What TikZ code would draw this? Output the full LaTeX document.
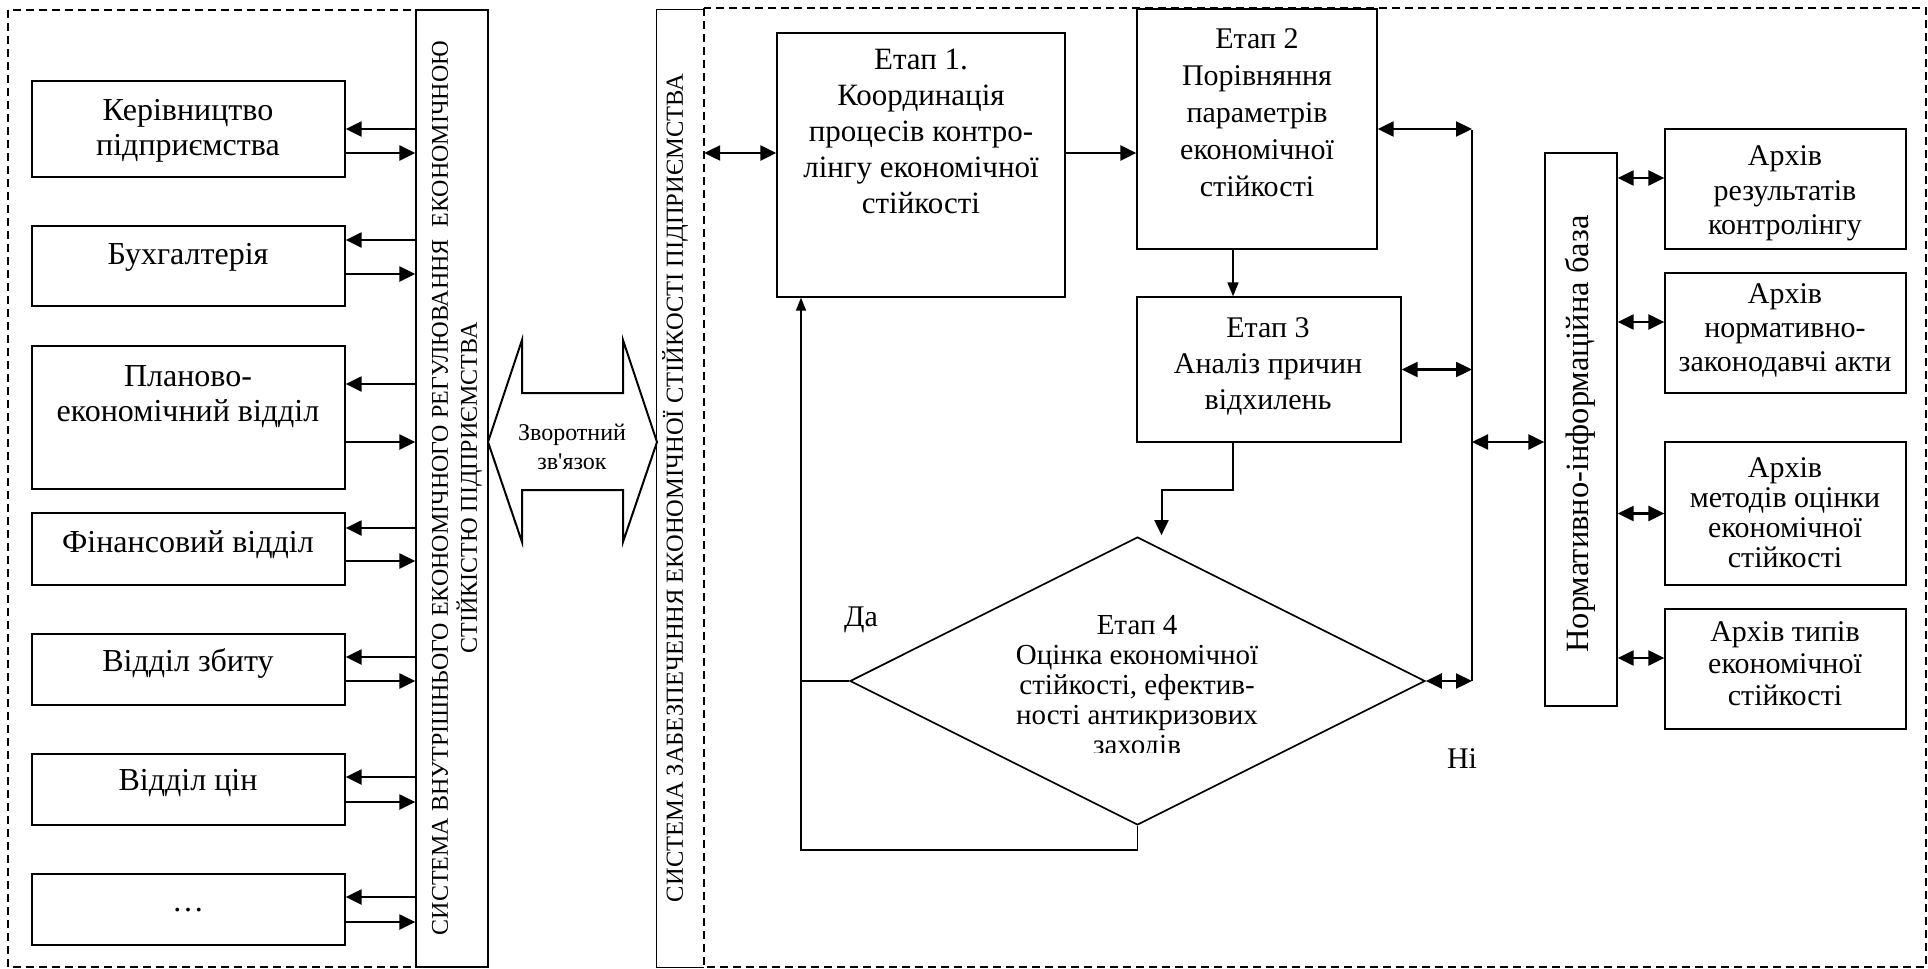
\documentclass[tikz,border=0pt]{standalone}
\usepackage{fontspec}
\setmainfont{Liberation Serif}
\newfontfamily\plainserif{Liberation Serif}
\usetikzlibrary{arrows.meta,shapes.geometric,calc}

\tikzset{
  frame/.style={draw, line width=1.3pt, inner sep=0pt},
  dashframe/.style={draw, line width=1.2pt, dash pattern=on 8pt off 5pt},
  lbl/.style={align=center, inner sep=0pt},
  big/.style={font=\fontsize{30}{35}\selectfont},
  dept/.style={font=\fontsize{32}{35}\selectfont},
  arr/.style={line width=2.3pt, -{Triangle[length=16pt,width=15pt]}},
  darr/.style={line width=2.3pt, {Triangle[length=16pt,width=15pt]}-{Triangle[length=16pt,width=15pt]}},
  thinarr/.style={line width=1.6pt, -{Triangle[length=14pt,width=11pt]}},
  wire/.style={line width=1.6pt},
  deptbox/.style={frame, minimum width=313pt},
  archbox/.style={frame, minimum width=241pt},
}

\begin{document}
\begin{tikzpicture}[x=1pt,y=-1pt]
\useasboundingbox (0,0) rectangle (1928,969);

% dashed outer frames
\draw[dashframe] (8,10) rectangle (416,967);
\draw[dashframe] (704,8) rectangle (1926,967);

% ---------- left part: departments and regulation system ----------
\node[frame, minimum width=72pt, minimum height=957pt, fill=white] (bar1) at (452,488.5) {};
\node[lbl, rotate=90, font=\fontsize{24}{29}\selectfont] (bar1-t) at (457,488)
  {СИСТЕМА ВНУТРІШНЬОГО ЕКОНОМІЧНОГО РЕГУЛЮВАННЯ\ \ ЕКОНОМІЧНОЮ\\СТІЙКІСТЮ ПІДПРИЄМСТВА};

\node[deptbox, minimum height=96pt]  (kerivn) at (188.5,129) {};
\node[deptbox, minimum height=80pt]  (buh)    at (188.5,266) {};
\node[deptbox, minimum height=143pt] (plan)   at (188.5,417.5) {};
\node[deptbox, minimum height=72pt]  (fin)    at (188.5,549) {};
\node[deptbox, minimum height=71pt]  (zbut)   at (188.5,669.5) {};
\node[deptbox, minimum height=71pt]  (cin)    at (188.5,789.5) {};
\node[deptbox, minimum height=71pt]  (more)   at (188.5,909.5) {};

\node[lbl, dept] (kerivn-t) at (188,131) {Керівництво\\підприємства};
\node[lbl, dept] (buh-t)    at (188,257) {Бухгалтерія};
\node[lbl, dept] (plan-t)   at (188,397) {Планово-\\економічний відділ};
\node[lbl, dept] (fin-t)    at (188,545) {Фінансовий відділ};
\node[lbl, dept] (zbut-t)   at (188,663) {Відділ збиту};
\node[lbl, dept] (cin-t)    at (188,783) {Відділ цін};
\node[lbl, dept] (more-t)   at (188,910) {…};

% each department: a line in from the system bar and a line out to it
\foreach \n/\a/\b in {kerivn/0/24, buh/-26/8, plan/-33.5/24.5, fin/-21/12,
                      zbut/-12.5/11.5, cin/-12.5/12.5, more/-12.5/12.5} {
  \coordinate (\n-in)  at ($(\n.east)+(0,\a)$);
  \coordinate (\n-out) at ($(\n.east)+(0,\b)$);
  \draw[arr] (bar1.west |- \n-in) -- (\n-in);
  \draw[arr] (\n-out) -- (bar1.west |- \n-out);
}

% feedback double arrow between the two systems
\draw[line width=2pt, fill=white] (488,442) -- (522,340) -- (522,393) -- (623,393)
  -- (623,340) -- (657,442) -- (623,542) -- (623,490) -- (522,490) -- (522,542) -- cycle;
\node[lbl, font=\plainserif\fontsize{24}{29}\selectfont] (fb) at (572,447) {Зворотний\\зв'язок};

% ---------- right part: stability assurance system ----------
\node[inner sep=0pt, minimum width=47pt, minimum height=957pt] (bar2) at (680.5,488.5) {};
\draw[line width=1.3pt] (bar2.north east) -- (bar2.north west) -- (bar2.south west) -- (bar2.south east);
\node[lbl, rotate=90, font=\fontsize{24.5}{29}\selectfont] (bar2-t) at (675,488)
  {СИСТЕМА ЗАБЕЗПЕЧЕННЯ ЕКОНОМІЧНОЇ СТІЙКОСТІ ПІДПРИЄМСТВА};

% stages
\node[frame, minimum width=288pt, minimum height=264pt] (e1) at (921,165) {};
\node[lbl, font=\fontsize{31}{36}\selectfont] (e1-t) at (921,131)
  {Етап 1.\\Координація\\процесів контро-\\лінгу економічної\\стійкості};

\node[frame, minimum width=240pt, minimum height=240pt] (e2) at (1257,129) {};
\node[lbl, font=\fontsize{30}{37}\selectfont] (e2-t) at (1257,113)
  {Етап 2\\Порівняння\\параметрів\\економічної\\стійкості};

\node[frame, minimum width=264pt, minimum height=145pt] (e3) at (1269,369.5) {};
\node[lbl, font=\fontsize{30}{36}\selectfont] (e3-t) at (1268,366)
  {Етап 3\\Аналіз причин\\відхилень};

\node[diamond, draw, line width=1.7pt, inner sep=0pt,
      minimum width=575pt, minimum height=288pt] (e4) at (1137.5,681) {};
\begin{scope}
  \clip (990,600) rectangle (1290,752);
  \node[lbl, font=\fontsize{29}{30}\selectfont] (e4-t) at (1137,688)
    {Етап 4\\Оцінка економічної\\стійкості, ефектив-\\ності антикризових\\заходів};
\end{scope}

\node[lbl, big] (yes) at (861,620) {Да};
\node[lbl, big] (no)  at (1462,759) {Ні};

% links between the system bar and the stages
\coordinate (e1-in)  at ($(e1.west)+(0,-12)$);
\coordinate (e1-out) at ($(e1.east)+(0,-12)$);
\draw[darr] (bar2.east |- e1-in) -- (e1-in);
\draw[arr] (e1-out) -- (e2.west |- e1-out);
\coordinate (e2-down) at ($(e2.south)+(-24,0)$);
\draw[thinarr] (e2-down) -- (e3.north -| e2-down);

% stage 3 to the decision
\coordinate (e3-down) at ($(e3.south)+(-36,0)$);
\coordinate (e4-in) at ($(e4.north)+(24,-1)$);
\draw[line width=2pt, -{Triangle[length=15pt,width=14pt]}] (e3-down) -- ++(0,47) -| (e4-in);

% "yes" branch back to stage 1
\coordinate (e1-back) at ($(e1.south)+(-120,0)$);
\draw[wire] (e4.west) -- (e4.west -| e1-back);
\draw[wire, -{Triangle[length=13pt,width=10pt]}] (e4.south) -- ++(0,24) -| (e1-back);

% information bus on the right
\coordinate (bus-top) at (1472,130);
\coordinate (bus-bot) at (1472,681);
\coordinate (bus-mid) at (1472,442);
\draw[line width=1.8pt] (bus-top) -- (bus-bot);
\draw[darr] (e2.east) -- (e2.east -| bus-top);
\draw[darr] (e3.east) -- (e3.east -| bus-top);
\draw[darr] (e4.east) -- (bus-bot);

% normative and information base
\node[frame, minimum width=72pt, minimum height=553pt] (norm) at (1581,429.5) {};
\node[lbl, rotate=90, font=\fontsize{32.5}{38}\selectfont] (norm-t) at (1580,434)
  {Нормативно-інформаційна база};
\draw[darr] (bus-mid) -- (norm.west |- bus-mid);

% archives
\node[archbox, minimum height=120pt] (a1) at (1785.5,189) {};
\node[archbox, minimum height=120pt] (a2) at (1785.5,333) {};
\node[archbox, minimum height=143pt] (a3) at (1785.5,513.5) {};
\node[archbox, minimum height=120pt] (a4) at (1785.5,669) {};
\node[lbl, font=\fontsize{30}{34.5}\selectfont] (a1-t) at (1785,193.5) {Архів\\результатів\\контролінгу};
\node[lbl, font=\fontsize{30}{34}\selectfont]   (a2-t) at (1785,330) {Архів\\нормативно-\\законодавчі акти};
\node[lbl, font=\fontsize{30}{30}\selectfont]   (a3-t) at (1785,513) {Архів\\методів оцінки\\економічної\\стійкості};
\node[lbl, font=\fontsize{30}{32}\selectfont]   (a4-t) at (1785,664) {Архів типів\\економічної\\стійкості};

\foreach \n/\d in {a1/-11, a2/-11, a3/0, a4/-11} {
  \coordinate (\n-in) at ($(\n.west)+(0,\d)$);
  \draw[darr] (norm.east |- \n-in) -- (\n-in);
}
\end{tikzpicture}
\end{document}
